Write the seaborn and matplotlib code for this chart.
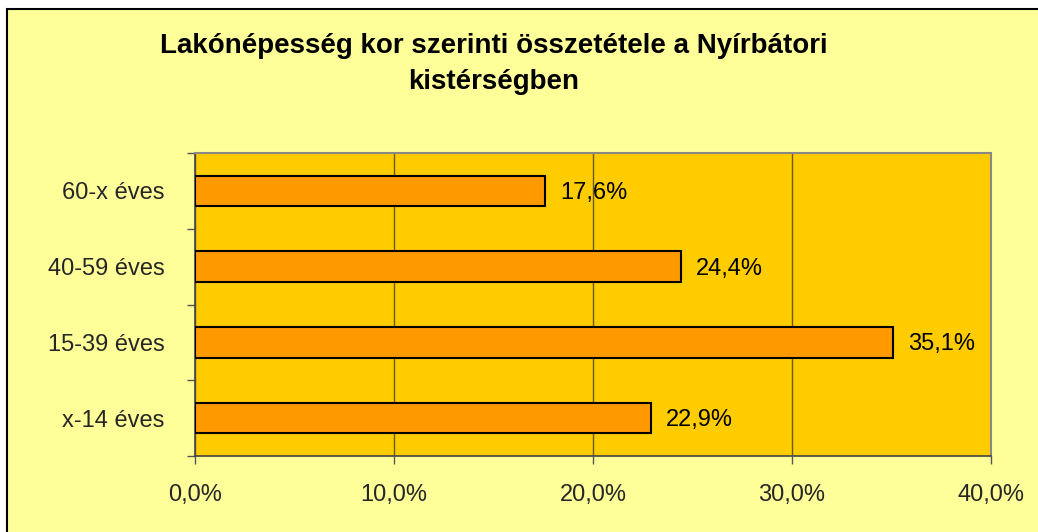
import matplotlib
matplotlib.use("Agg")
import matplotlib.pyplot as plt
import seaborn as sns
import pandas as pd
from matplotlib.patches import Rectangle
from matplotlib.ticker import FixedLocator, FuncFormatter

categories = ["60-x éves", "40-59 éves", "15-39 éves", "x-14 éves"]
values = [17.6, 24.4, 35.1, 22.9]
title_lines = ["Lakónépesség kor szerinti összetétele a Nyírbátori", "kistérségben"]
x_ticks = [0, 10, 20, 30, 40]

sns.set_theme(style="white")
plt.rcParams["font.family"] = ["Liberation Sans", "DejaVu Sans"]

W, H = 1038, 532
fig = plt.figure(figsize=(W / 100, H / 100), dpi=100, facecolor="white")
bg = Rectangle((7 / W, -0.02), 1.1, 1 - 9 / H + 0.02, transform=fig.transFigure,
               facecolor="#FFFF99", edgecolor="black", linewidth=1.5, zorder=-10)
fig.patches.append(bg)

ax = fig.add_axes([195 / W, 1 - 456 / H, (991 - 195) / W, (456 - 153) / H])
ax.set_zorder(1)
ax.set_facecolor("#FFCC00")

df = pd.DataFrame({"cat": categories, "val": values})
sns.barplot(data=df, y="cat", x="val", order=categories, orient="h", ax=ax,
            color="#FF9900", saturation=1, width=0.4, edgecolor="black", linewidth=1.5, zorder=3)

ax.set_xlim(0, 40)
ax.set_ylim(3.5, -0.5)
ax.set_xticks(x_ticks)
ax.xaxis.set_major_formatter(FuncFormatter(lambda v, p: f"{v:.1f}%".replace(".", ",")))
ax.grid(axis="x", color="#6b5a10", linewidth=1, zorder=1)
ax.grid(axis="y", visible=False)
ax.set_axisbelow(True)
ax.set_xlabel("")
ax.set_ylabel("")

ax.tick_params(axis="x", which="major", direction="out", length=6, width=1, color="#555555",
               labelsize=17, pad=14, bottom=True)
ax.tick_params(axis="y", which="major", length=0, labelsize=17, pad=22)
ax.yaxis.set_minor_locator(FixedLocator([-0.5, 0.5, 1.5, 2.5, 3.5]))
ax.tick_params(axis="y", which="minor", direction="out", length=6, width=1, color="#555555", left=True)

for side in ["top", "right"]:
    ax.spines[side].set_color("#888888")
    ax.spines[side].set_linewidth(1.5)
for side in ["left", "bottom"]:
    ax.spines[side].set_color("#444444")
    ax.spines[side].set_linewidth(1.2)

for i, v in enumerate(values):
    ax.annotate(f"{v:.1f}%".replace(".", ","), xy=(v, i), xytext=(15, -2), textcoords="offset pixels",
                ha="left", va="center", fontsize=17, color="black", zorder=4)

fig.text(493.5 / W, 1 - 53 / H, title_lines[0], ha="center", va="baseline",
         fontsize=20, fontweight="bold", color="black")
fig.text(493.5 / W, 1 - 89 / H, title_lines[1], ha="center", va="baseline",
         fontsize=20, fontweight="bold", color="black")

fig.savefig("out.png", dpi=100, facecolor=fig.get_facecolor())
